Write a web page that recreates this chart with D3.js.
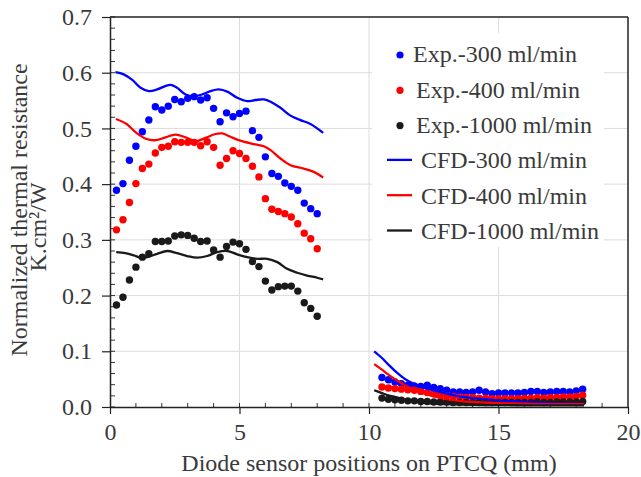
<!DOCTYPE html>
<meta charset="utf-8">
<script src="https://d3js.org/d3.v7.min.js"></script>
<style>
  body { margin: 0; background: #fff; }
  text { font-family: "Liberation Serif", "Times New Roman", serif; fill: #3a3a3a; }
</style>
<div id="chart"></div>
<script>

// measured positions (mm)
var expXLeft = [0.25,0.5,0.75,1,1.25,1.5,1.75,2,2.25,2.5,2.75,3,3.25,3.5,3.75,4,
                4.25,4.5,4.75,5,5.25,5.5,5.75,6,6.25,6.5,6.75,7,7.25,7.5,7.75,8];
var expXRight = [10.5,10.75,11,11.25,11.5,11.75,12,12.25,12.5,12.75,13,13.25,13.5,13.75,14,14.25,
                 14.5,14.75,15,15.25,15.5,15.75,16,16.25,16.5,16.75,17,17.25,17.5,17.75,18,18.25];

// experiment values
var exp300Left = [0.389,0.401,0.443,0.468,0.494,0.515,0.539,0.533,0.540,0.552,0.548,0.554,0.557,0.551,0.555,0.536,
                  0.512,0.528,0.521,0.527,0.531,0.496,0.484,0.449,0.419,0.414,0.402,0.396,0.389,0.366,0.356,0.347];
var exp400Left = [0.318,0.336,0.367,0.401,0.428,0.436,0.456,0.466,0.468,0.476,0.475,0.475,0.475,0.469,0.476,0.466,
                  0.434,0.446,0.460,0.455,0.446,0.432,0.413,0.374,0.355,0.351,0.347,0.341,0.329,0.312,0.302,0.284];
var exp1000Left = [0.183,0.197,0.228,0.251,0.269,0.275,0.297,0.297,0.298,0.307,0.309,0.308,0.303,0.297,0.298,0.282,
                   0.269,0.288,0.296,0.293,0.283,0.261,0.252,0.226,0.210,0.216,0.217,0.217,0.208,0.187,0.177,0.163];
var exp300Right = [0.053,0.049,0.045,0.042,0.039,0.038,0.037,0.039,0.035,0.033,0.030,0.027,0.027,0.026,0.027,0.030,
                   0.027,0.024,0.025,0.025,0.025,0.025,0.026,0.028,0.028,0.026,0.027,0.028,0.028,0.027,0.029,0.032];
var exp400Right = [0.036,0.034,0.033,0.032,0.031,0.030,0.028,0.026,0.024,0.022,0.020,0.019,0.018,0.017,0.017,0.016,
                   0.016,0.015,0.015,0.015,0.015,0.015,0.016,0.016,0.017,0.016,0.017,0.017,0.018,0.018,0.019,0.021];
var exp1000Right = [0.016,0.014,0.013,0.012,0.011,0.011,0.010,0.010,0.009,0.009,0.009,0.008,0.008,0.008,0.008,0.008,
                    0.008,0.008,0.008,0.008,0.008,0.008,0.008,0.008,0.009,0.008,0.008,0.009,0.009,0.009,0.009,0.010];

// CFD curves
var cfd300LeftX = [0.21,0.53,0.86,1.18,1.5,1.82,2.14,2.34,2.59,2.92,3.24,3.56,3.88,4.2,4.53,4.91,5.3,5.62,5.94,6.2,6.58,6.97,7.35,7.74,8.23];
var cfd300LeftY = [0.601,0.597,0.587,0.573,0.567,0.570,0.576,0.578,0.573,0.561,0.558,0.561,0.567,0.570,0.566,0.555,0.549,0.551,0.552,0.548,0.537,0.523,0.515,0.508,0.492];
var cfd400LeftX = [0.23,0.64,1.02,1.41,1.78,2.14,2.53,2.92,3.3,3.69,4.07,4.34,4.65,5.03,5.55,5.94,6.2,6.58,6.97,7.48,7.87,8.23];
var cfd400LeftY = [0.517,0.508,0.492,0.481,0.479,0.484,0.489,0.484,0.477,0.483,0.490,0.491,0.485,0.478,0.472,0.468,0.461,0.446,0.434,0.428,0.422,0.412];
var cfd1000LeftX = [0.24,0.6,0.92,1.18,1.44,1.82,2.21,2.59,2.98,3.37,3.75,4.14,4.53,4.91,5.3,5.68,6.07,6.46,6.84,7.23,7.61,8.0,8.23];
var cfd1000LeftY = [0.278,0.276,0.272,0.268,0.269,0.275,0.280,0.276,0.271,0.268,0.271,0.278,0.280,0.274,0.269,0.266,0.266,0.260,0.248,0.241,0.236,0.232,0.229];

var cfdRightX = [10.2,10.5,10.75,11,11.25,11.5,11.75,12,12.5,13,13.5,14,14.5,15,16,17,18.3];
var cfd300RightY = [0.100,0.088,0.076,0.065,0.055,0.047,0.041,0.036,0.030,0.024,0.019,0.016,0.014,0.012,0.009,0.007,0.006];
var cfd400RightY = [0.077,0.067,0.058,0.050,0.043,0.036,0.031,0.026,0.019,0.014,0.011,0.009,0.008,0.007,0.006,0.005,0.005];
var cfd1000RightY = [0.030,0.025,0.021,0.018,0.015,0.012,0.010,0.008,0.006,0.005,0.0045,0.004,0.0035,0.0035,0.003,0.003,0.003];

var xTicks = [0, 5, 10, 15, 20];
var yTicks = [0, 0.1, 0.2, 0.3, 0.4, 0.5, 0.6, 0.7];

var legendItems = [
  {label: "Exp.-300 ml/min", color: "#0000ff", kind: "dot"},
  {label: "Exp.-400 ml/min", color: "#ff0000", kind: "dot"},
  {label: "Exp.-1000 ml/min", color: "#1a1a1a", kind: "dot"},
  {label: "CFD-300 ml/min", color: "#0000ff", kind: "line"},
  {label: "CFD-400 ml/min", color: "#ff0000", kind: "line"},
  {label: "CFD-1000 ml/min", color: "#1a1a1a", kind: "line"}
];

var serif = "'Liberation Serif', 'Times New Roman', serif";

var W = 641, H = 477;
var margin = {top: 17, right: 13, bottom: 70, left: 110},
    width = W - margin.left - margin.right,
    height = H - margin.top - margin.bottom;

var svg = d3.select("#chart").append("svg")
    .attr("width", W)
    .attr("height", H);

var g = svg.append("g")
    .attr("transform", "translate(" + margin.left + "," + margin.top + ")");

var x = d3.scaleLinear().domain([0, 20]).range([0, width]);
var y = d3.scaleLinear().domain([0, 0.7]).range([height, 0]);

// gridlines
g.selectAll(".hgrid").data(yTicks.slice(1, -1)).enter().append("line")
    .attr("x1", 0).attr("x2", width)
    .attr("y1", function(d) { return y(d); }).attr("y2", function(d) { return y(d); })
    .attr("stroke", "#dcdcdc").attr("stroke-width", 1);
g.selectAll(".vgrid").data(xTicks.slice(1, -1)).enter().append("line")
    .attr("y1", 0).attr("y2", height)
    .attr("x1", function(d) { return x(d); }).attr("x2", function(d) { return x(d); })
    .attr("stroke", "#dcdcdc").attr("stroke-width", 1);

// legend background hides gridlines
g.append("rect")
    .attr("x", 262).attr("y", 16).attr("width", 232).attr("height", 214)
    .attr("fill", "#fff");

// minor ticks (inside)
var minorY = d3.range(0, 0.7001, 0.02);
g.selectAll(".myt").data(minorY).enter().append("line")
    .attr("x1", 0).attr("x2", 5)
    .attr("y1", function(d) { return y(d); }).attr("y2", function(d) { return y(d); })
    .attr("stroke", "#333").attr("stroke-width", 1);
var minorX = d3.range(1, 20, 1);
g.selectAll(".mxt").data(minorX).enter().append("line")
    .attr("y1", height).attr("y2", height - 4)
    .attr("x1", function(d) { return x(d); }).attr("x2", function(d) { return x(d); })
    .attr("stroke", "#333").attr("stroke-width", 1);

// axes
var yAxis = g.append("g")
    .call(d3.axisLeft(y).tickValues(yTicks).tickSize(8).tickSizeOuter(0)
      .tickFormat(d3.format(".1f")).tickPadding(10));
var xAxis = g.append("g")
    .attr("transform", "translate(0," + height + ")")
    .call(d3.axisBottom(x).tickValues(xTicks).tickSize(7).tickSizeOuter(0).tickPadding(6));
[yAxis, xAxis].forEach(function(a) {
  a.attr("font-family", null).attr("font-size", null);
  a.select(".domain").attr("stroke", "#222").attr("stroke-width", 1.5);
  a.selectAll(".tick line").attr("stroke", "#222").attr("stroke-width", 1.2);
  a.selectAll("text").style("font-size", "24px").style("fill", "#3a3a3a")
    .style("font-family", serif);
});
xAxis.selectAll("text").attr("dy", "0.85em");

// frame top and right
g.append("line").attr("x1", 0).attr("x2", width).attr("y1", 0).attr("y2", 0)
    .attr("stroke", "#222").attr("stroke-width", 1.5);
g.append("line").attr("x1", width).attr("x2", width).attr("y1", 0).attr("y2", height)
    .attr("stroke", "#222").attr("stroke-width", 1.5);

// experiment dots
function dots(xs, ys, color) {
  g.append("g").selectAll("circle")
    .data(xs.map(function(v, i) { return [v, ys[i]]; }))
    .enter().append("circle")
      .attr("cx", function(d) { return x(d[0]); })
      .attr("cy", function(d) { return y(d[1]); })
      .attr("r", 3.7)
      .attr("fill", color);
}
dots(expXLeft, exp300Left, "#0000ff");
dots(expXRight, exp300Right, "#0000ff");
dots(expXLeft, exp400Left, "#ff0000");
dots(expXRight, exp400Right, "#ff0000");
dots(expXLeft, exp1000Left, "#1a1a1a");
dots(expXRight, exp1000Right, "#1a1a1a");

// CFD lines
var line = d3.line()
    .x(function(d) { return x(d[0]); })
    .y(function(d) { return y(d[1]); })
    .curve(d3.curveCatmullRom);
function curve(xs, ys, color) {
  g.append("path")
    .datum(xs.map(function(v, i) { return [v, ys[i]]; }))
    .attr("d", line)
    .attr("fill", "none")
    .attr("stroke", color)
    .attr("stroke-width", 2.3);
}
curve(cfd300LeftX, cfd300LeftY, "#0000ff");
curve(cfdRightX, cfd300RightY, "#0000ff");
curve(cfd400LeftX, cfd400LeftY, "#ff0000");
curve(cfdRightX, cfd400RightY, "#ff0000");
curve(cfd1000LeftX, cfd1000LeftY, "#1a1a1a");
curve(cfdRightX, cfd1000RightY, "#1a1a1a");

// legend
var leg = svg.append("g");
legendItems.forEach(function(d, i) {
  var cy = 54 + i * 35.3;
  if (d.kind === "dot") {
    leg.append("circle").attr("cx", 400).attr("cy", cy + 1).attr("r", 3.6).attr("fill", d.color);
    leg.append("text").attr("x", i === 0 ? 413 : 416).attr("y", cy).attr("dy", "0.35em")
      .style("font-size", "24px").text(d.label);
  } else {
    leg.append("line").attr("x1", 387).attr("x2", 412).attr("y1", cy).attr("y2", cy)
      .attr("stroke", d.color).attr("stroke-width", 2.3);
    leg.append("text").attr("x", 421).attr("y", cy).attr("dy", "0.35em")
      .style("font-size", "24px").text(d.label);
  }
});

// axis titles
svg.append("text")
    .attr("x", margin.left + width / 2).attr("y", 471)
    .attr("text-anchor", "middle").style("font-size", "24px")
    .text("Diode sensor positions on PTCQ (mm)");
svg.append("text")
    .attr("transform", "translate(27,210) rotate(-90)")
    .attr("text-anchor", "middle").style("font-size", "24px")
    .text("Normalized thermal resistance");
svg.append("text")
    .attr("transform", "translate(46,227) rotate(-90)")
    .attr("text-anchor", "middle").style("font-size", "24px")
    .text("K.cm²/W");

</script>
